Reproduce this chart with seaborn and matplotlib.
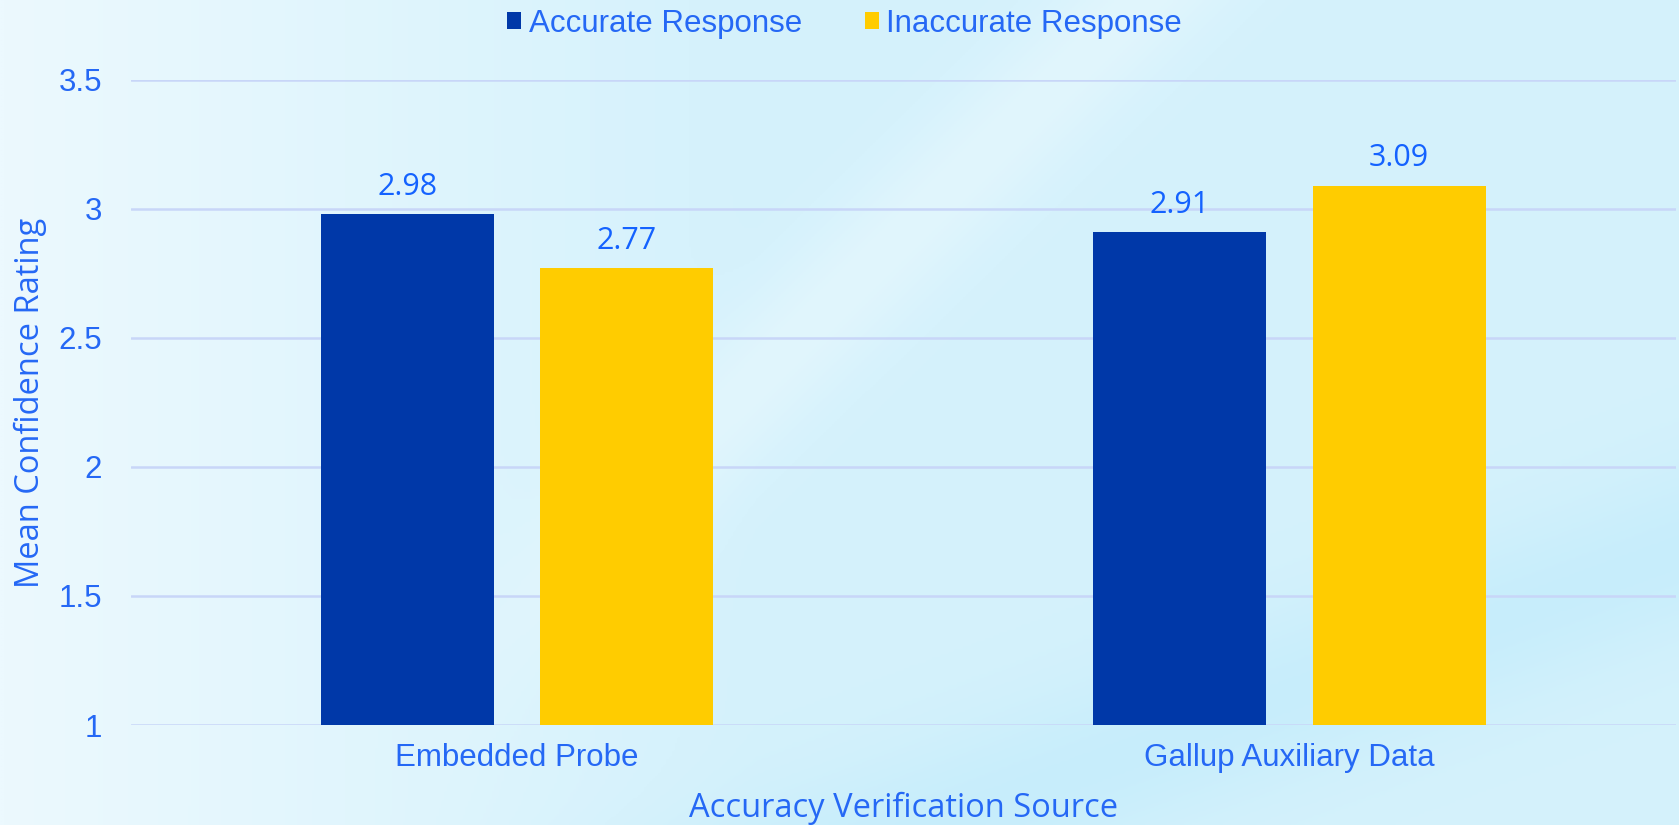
import matplotlib
matplotlib.use("Agg")
import matplotlib.pyplot as plt
from matplotlib.colors import LinearSegmentedColormap
import numpy as np
import pandas as pd
import seaborn as sns

# chart data
categories = ["Embedded Probe", "Gallup Auxiliary Data"]
series = ["Accurate Response", "Inaccurate Response"]
accurate = [2.98, 2.91]
inaccurate = [2.77, 3.09]
y_ticks = [1, 1.5, 2, 2.5, 3, 3.5]

BLUE = "#0038A8"
YELLOW = "#FFCC00"
TEXT = "#2568F5"
LABEL = "#1462FF"
GRID = "#C8D6F8"

df = pd.DataFrame({
    "source": categories * 2,
    "response": [series[0]] * len(categories) + [series[1]] * len(categories),
    "rating": accurate + inaccurate,
})

sns.set_style("white")
plt.rcParams["font.family"] = ["Liberation Sans", "DejaVu Sans"]

fig = plt.figure(figsize=(16.79, 8.25), dpi=100)

# soft backdrop: pale on the left, cyan to the right, a couple of diagonal sheens
bg = fig.add_axes([0, 0, 1, 1], zorder=-5)
yy, xx = np.mgrid[0:1:300j, 0:1:600j]
field = 0.55 * np.clip(xx / 0.45, 0, 1)
fade = np.clip((xx - 0.25) / 0.2, 0, 1)
light_band = np.exp(-((yy - (xx * 2.0 - 0.36)) ** 2) / 0.012) * fade
cyan_band = np.exp(-((yy - (xx * 0.75 - 0.42)) ** 2) / 0.012)
field = field - 0.3 * light_band + 0.4 * cyan_band
field = np.clip(field, 0, 1)
cmap = LinearSegmentedColormap.from_list("bg", ["#ECF9FE", "#D6F2FC", "#C6EDFB"])
bg.imshow(field, cmap=cmap, aspect="auto", extent=[0, 1, 0, 1], origin="lower",
          vmin=0, vmax=1)
bg.axis("off")

ax = fig.add_axes([0.078, 0.1212, 0.92, 0.782])
ax.set_facecolor("none")

sns.barplot(data=df, x="source", y="rating", hue="response",
            palette=[BLUE, YELLOW], width=0.568, gap=0.21,
            saturation=1, linewidth=0, edgecolor="none",
            ax=ax, legend=True, zorder=3)

for cont in ax.containers:
    ax.bar_label(cont, fmt="%.2f", padding=9, color=LABEL, fontsize=22,
                 family=["Open Sans", "DejaVu Sans"])

ax.set_ylim(1, 3.5)
ax.set_yticks(y_ticks)
ax.set_yticklabels([f"{t:g}" for t in y_ticks])
ax.set_xlim(-0.5, 1.5)
ax.yaxis.grid(True, color=GRID, linewidth=1.8, zorder=0)
ax.set_axisbelow(True)
sns.despine(ax=ax, left=True, bottom=True)
ax.tick_params(axis="both", length=0, labelsize=22.5, colors=TEXT)
ax.tick_params(axis="y", pad=21)
ax.tick_params(axis="x", pad=13)

ax.set_xlabel("Accuracy Verification Source", fontsize=23.5, color=TEXT,
              family=["Open Sans", "DejaVu Sans"], va="center")
ax.set_ylabel("Mean Confidence Rating", fontsize=23.5, color=TEXT,
              family=["Open Sans", "DejaVu Sans"], va="center")
ax.xaxis.set_label_coords(0.5, -0.129)
ax.yaxis.set_label_coords(-0.0654, 0.5)

handles, labels = ax.get_legend_handles_labels()
ax.get_legend().remove()
for h in handles:
    h.set_edgecolor("none")
    h.set_linewidth(0)
fig.legend(handles, labels, loc="center", bbox_to_anchor=(0.503, 0.9715),
           ncol=2, frameon=False, fontsize=22.5, labelcolor=TEXT,
           handlelength=0.45, handleheight=0.45, handletextpad=0.25,
           columnspacing=2.0)

fig.savefig("out.png", dpi=100)
plt.close(fig)
